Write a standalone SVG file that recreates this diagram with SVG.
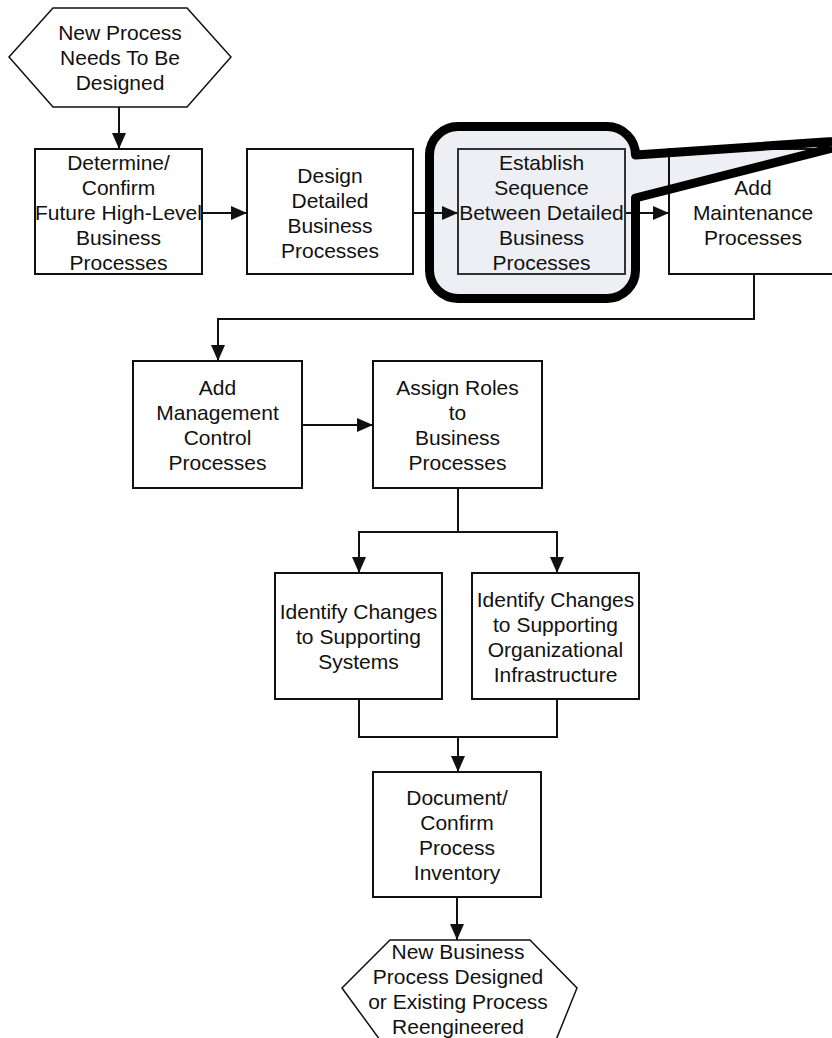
<svg xmlns="http://www.w3.org/2000/svg" width="832" height="1038" viewBox="0 0 832 1038">
  <defs>
    <style>
      .box { fill: none; stroke: #111; stroke-width: 2; }
      .hex { fill: #fff; stroke: #111; stroke-width: 1.5; stroke-linejoin: miter; }
      .t { font-family: "Liberation Sans", Arial, sans-serif; font-size: 21px; text-anchor: middle; fill: #111; }
      .wire { fill: none; stroke: #111; stroke-width: 2; }
      .callout-fill { fill: #EEEFF4; stroke: none; }
      .callout-line { fill: none; stroke: #000; stroke-width: 9; stroke-linejoin: round; }
    </style>
    <marker id="arrow" markerUnits="userSpaceOnUse" markerWidth="17" markerHeight="14" refX="16" refY="7" orient="auto">
      <path d="M0,0 L16,7 L0,14 Z" fill="#111"/>
    </marker>
  </defs>

  <rect width="832" height="1038" fill="#fff"/>

  <!-- highlight bubble background around the sequencing step -->
  <g id="callout-background">
    <path class="callout-fill" d="M458,126.5 H607 A28.5,28.5 0 0 1 635.5,155 L868,139 L635.5,198 V270 A28.5,28.5 0 0 1 607,298.5 H458 A28.5,28.5 0 0 1 429.5,270 V155 A28.5,28.5 0 0 1 458,126.5 Z"/>
  </g>

  <g id="connectors">
    <path class="wire" d="M119,107 V149" marker-end="url(#arrow)"/>
    <path class="wire" d="M202,213 H247" marker-end="url(#arrow)"/>
    <path class="wire" d="M413,213 H458" marker-end="url(#arrow)"/>
    <path class="wire" d="M625,213 H669" marker-end="url(#arrow)"/>
    <path class="wire" d="M754,274 V319 H218 V361" marker-end="url(#arrow)"/>
    <path class="wire" d="M302,425 H373" marker-end="url(#arrow)"/>
    <path class="wire" d="M458,488 V532 H359 V573" marker-end="url(#arrow)"/>
    <path class="wire" d="M458,532 H557 V573" marker-end="url(#arrow)"/>
    <path class="wire" d="M359,699 V737 H557 V699"/>
    <path class="wire" d="M458,737 V772" marker-end="url(#arrow)"/>
    <path class="wire" d="M457,897 V940" marker-end="url(#arrow)"/>
  </g>

  <g id="start">
    <polygon class="hex" points="9,57 53,8 187,8 231,57 187,107 53,107"/>
    <text class="t" x="120" y="40">New Process</text>
    <text class="t" x="120" y="65">Needs To Be</text>
    <text class="t" x="120" y="90">Designed</text>
  </g>

  <g id="future-high-level">
    <rect class="box" x="35" y="149" width="167" height="125" fill="#fff"/>
    <text class="t" x="118.5" y="170">Determine/</text>
    <text class="t" x="118.5" y="195">Confirm</text>
    <text class="t" x="118.5" y="220">Future High-Level</text>
    <text class="t" x="118.5" y="245">Business</text>
    <text class="t" x="118.5" y="270">Processes</text>
  </g>

  <g id="design-detailed">
    <rect class="box" x="247" y="149" width="166" height="125"/>
    <text class="t" x="330" y="183">Design</text>
    <text class="t" x="330" y="208">Detailed</text>
    <text class="t" x="330" y="233">Business</text>
    <text class="t" x="330" y="258">Processes</text>
  </g>

  <g id="establish-sequence">
    <rect class="box" x="458" y="149" width="167" height="125" style="stroke:#333"/>
    <text class="t" x="541.5" y="170">Establish</text>
    <text class="t" x="541.5" y="195">Sequence</text>
    <text class="t" x="541.5" y="220">Between Detailed</text>
    <text class="t" x="541.5" y="245">Business</text>
    <text class="t" x="541.5" y="270">Processes</text>
  </g>

  <g id="maintenance">
    <rect class="box" x="669" y="149" width="168" height="125"/>
    <text class="t" x="753" y="195">Add</text>
    <text class="t" x="753" y="220">Maintenance</text>
    <text class="t" x="753" y="245">Processes</text>
  </g>

  <g id="management-control">
    <rect class="box" x="133" y="361" width="169" height="127"/>
    <text class="t" x="217.5" y="395">Add</text>
    <text class="t" x="217.5" y="420">Management</text>
    <text class="t" x="217.5" y="445">Control</text>
    <text class="t" x="217.5" y="470">Processes</text>
  </g>

  <g id="assign-roles">
    <rect class="box" x="373" y="361" width="169" height="127"/>
    <text class="t" x="457.5" y="395">Assign Roles</text>
    <text class="t" x="457.5" y="420">to</text>
    <text class="t" x="457.5" y="445">Business</text>
    <text class="t" x="457.5" y="470">Processes</text>
  </g>

  <g id="supporting-systems">
    <rect class="box" x="275" y="573" width="167" height="126"/>
    <text class="t" x="358.5" y="619">Identify Changes</text>
    <text class="t" x="358.5" y="644">to Supporting</text>
    <text class="t" x="358.5" y="669">Systems</text>
  </g>

  <g id="supporting-infrastructure">
    <rect class="box" x="472" y="573" width="167" height="126"/>
    <text class="t" x="555.5" y="607">Identify Changes</text>
    <text class="t" x="555.5" y="632">to Supporting</text>
    <text class="t" x="555.5" y="657">Organizational</text>
    <text class="t" x="555.5" y="682">Infrastructure</text>
  </g>

  <g id="process-inventory">
    <rect class="box" x="373" y="772" width="168" height="125"/>
    <text class="t" x="457" y="805">Document/</text>
    <text class="t" x="457" y="830">Confirm</text>
    <text class="t" x="457" y="855">Process</text>
    <text class="t" x="457" y="880">Inventory</text>
  </g>

  <g id="end">
    <polygon class="hex" points="342,988 390,940 530,940 577,988 556,1040 380,1040"/>
    <text class="t" x="458" y="959">New Business</text>
    <text class="t" x="458" y="984">Process Designed</text>
    <text class="t" x="458" y="1009">or Existing Process</text>
    <text class="t" x="458" y="1034">Reengineered</text>
  </g>

  <!-- heavy outline of the highlight bubble, drawn over the boxes it crosses -->
  <g id="callout-outline">
    <path class="callout-line" d="M458,126.5 H607 A28.5,28.5 0 0 1 635.5,155 L868,139 L635.5,198 V270 A28.5,28.5 0 0 1 607,298.5 H458 A28.5,28.5 0 0 1 429.5,270 V155 A28.5,28.5 0 0 1 458,126.5 Z"/>
  </g>
</svg>
